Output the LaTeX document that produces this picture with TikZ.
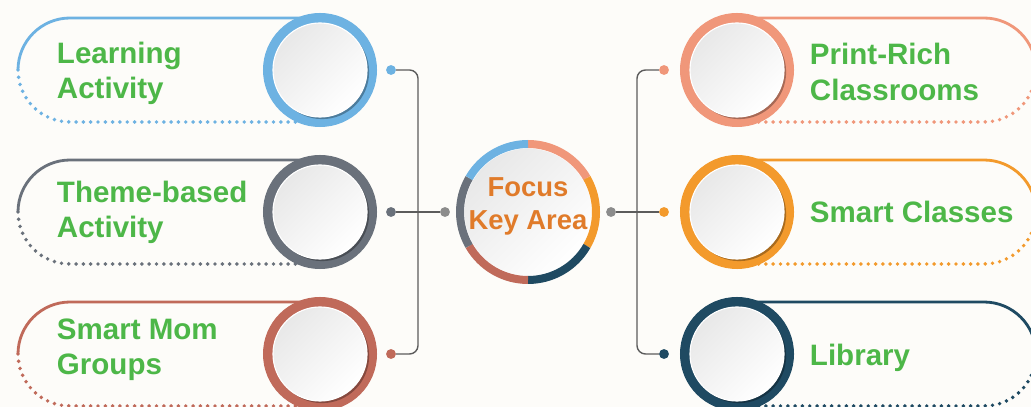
\documentclass[tikz,border=0pt]{standalone}
\usepackage{fontspec}
\setmainfont{Liberation Sans}
\usepackage{xcolor}
\usetikzlibrary{positioning, calc, shadows}
\definecolor{SkyBlue}{HTML}{6DB2E2}
\definecolor{Slate}{HTML}{6A717B}
\definecolor{Brick}{HTML}{C06A5A}
\definecolor{Salmon}{HTML}{F0977A}
\definecolor{Amber}{HTML}{F39A2C}
\definecolor{Navy}{HTML}{1F4A62}
\definecolor{Leaf}{HTML}{4DB748}
\definecolor{Pumpkin}{HTML}{E07B2A}
\definecolor{Paper}{HTML}{FDFCF9}
\definecolor{Wire}{HTML}{5C5C5C}
\definecolor{Pebble}{HTML}{8C8C8C}

\tikzset{
    ring/.style={circle, fill=#1, minimum size=2.85cm, inner sep=0pt},
    lens/.style={circle, draw=white, line width=0.8pt, inner sep=0pt,
                 minimum size=2.35cm, shading=axis, top color=black!9,
                 bottom color=white, shading angle=45,
                 drop shadow={shadow xshift=1.5pt, shadow yshift=-1.5pt,
                              opacity=0.3, fill=black}},
    capline/.style={draw=#1, line width=2pt},
    capdots/.style={draw=#1, line width=2.8pt, line cap=round,
                    dash pattern=on 0pt off 5.2pt},
    knob/.style={circle, fill=#1, minimum size=7pt, inner sep=0pt},
    itemtext/.style={anchor=west, align=left, text=Leaf,
                     font=\fontsize{21}{25}\selectfont\bfseries},
    wire/.style={draw=Wire, line width=1pt, rounded corners=6pt}
}

\begin{document}
\begin{tikzpicture}[x=0.025cm, y=0.025cm]
    \useasboundingbox (0,0) rectangle (1031,407);
    \clip (0,0) rectangle (1031,407);
    \fill[Paper] (0,0) rectangle (1031,407);

    % Left items
    \foreach \y/\dy/\c/\name/\txt in {337/-3/SkyBlue/learn/{Learning\\Activity},
                                      195/0/Slate/theme/{Theme-based\\Activity},
                                      53/4/Brick/mom/{Smart Mom\\Groups}} {
        \draw[capline=\c] (320,\y+52) -- (70,\y+52)
            arc[start angle=90, end angle=180, radius=52];
        \draw[capdots=\c] (18,\y) arc[start angle=180, end angle=270, radius=52]
            -- (320,\y-52);
        \node[ring=\c] (\name ring) at (320,\y) {};
        \node[lens] (\name) at (320,\y) {};
        \node[itemtext] (\name txt) at (52,\y+\dy) {\txt};
        \node[knob=\c] (\name dot) at (391,\y) {};
    }

    % Right items
    \foreach \y/\dy/\c/\name/\txt in {337/-2/Salmon/print/{Print-Rich\\Classrooms},
                                      195/0/Amber/smart/{Smart Classes},
                                      53/-4/Navy/lib/{Library}} {
        \draw[capline=\c] (737,\y+52) -- (984,\y+52)
            arc[start angle=90, end angle=0, radius=52];
        \draw[capdots=\c] (1036,\y) arc[start angle=0, end angle=-90, radius=52]
            -- (737,\y-52);
        \node[ring=\c] (\name ring) at (737,\y) {};
        \node[lens] (\name) at (737,\y) {};
        \node[itemtext] (\name txt) at (805,\y+\dy) {\txt};
        \node[knob=\c] (\name dot) at (664,\y) {};
    }

    % Focus hub
    \node[lens, minimum size=3.2cm] (focus) at (528,195) {};
    \foreach \c [count=\k] in {Salmon, Amber, Navy, Brick, Slate, SkyBlue}
        \draw[draw=\c, line width=0.2cm] (focus.center) ++({150-60*\k}:68)
            arc[start angle={150-60*\k}, end angle={90-60*\k}, radius=68];
    \node[text=Pumpkin, align=center, font=\fontsize{19.5}{23.5}\selectfont\bfseries]
        (focustxt) at (528,201) {Focus\\Key Area};
    \node[knob=Pebble] (hubleft) at (445,195) {};
    \node[knob=Pebble] (hubright) at (611,195) {};

    % Connectors
    \draw[wire] (learndot) -- ++(27,0) |- (momdot);
    \draw[wire] (themedot) -- (hubleft);
    \draw[wire] (printdot) -- ++(-27,0) |- (libdot);
    \draw[wire] (hubright) -- (smartdot);
\end{tikzpicture}
\end{document}
